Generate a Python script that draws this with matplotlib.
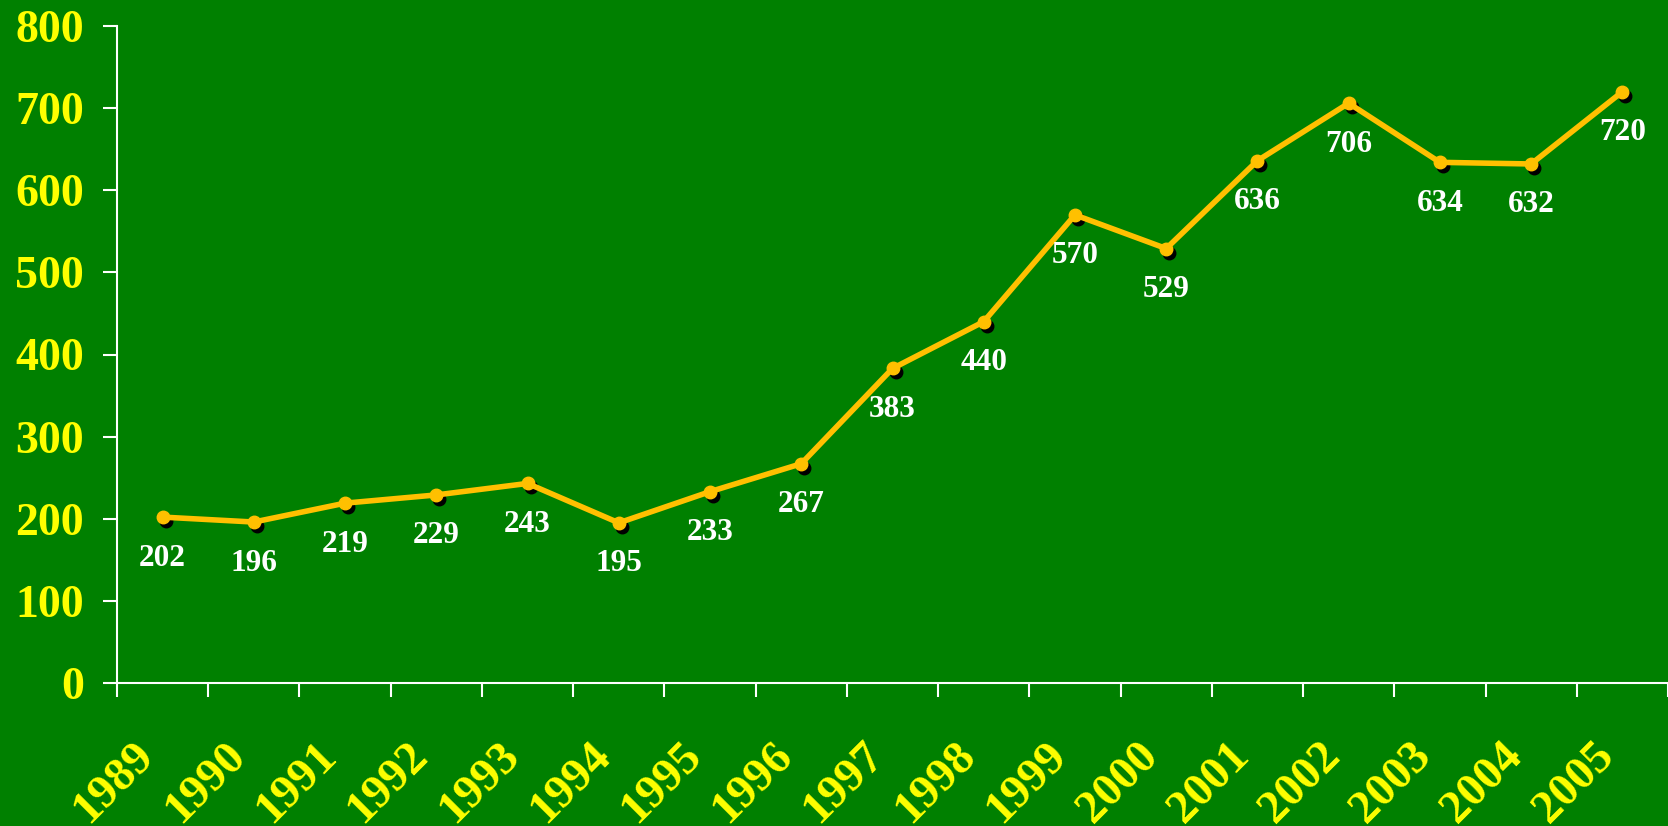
import matplotlib
matplotlib.use('Agg')
import matplotlib.pyplot as plt
import matplotlib.transforms as mtransforms
import numpy as np

# data
years = ['1989', '1990', '1991', '1992', '1993', '1994', '1995', '1996', '1997',
         '1998', '1999', '2000', '2001', '2002', '2003', '2004', '2005']
values = [202, 196, 219, 229, 243, 195, 233, 267, 383,
          440, 570, 529, 636, 706, 634, 632, 720]
y_ticks = [0, 100, 200, 300, 400, 500, 600, 700, 800]

bg = '#008000'
gold = '#FFC000'
yellow = '#FFFF00'
serif = 'Liberation Serif'

fig = plt.figure(figsize=(16.68, 8.26), dpi=100, facecolor=bg)
ax = fig.add_axes([117 / 1668, 1 - 683 / 826, 1 - 117 / 1668, (683 - 26) / 826])
ax.set_facecolor(bg)

x = np.arange(len(values)) + 0.5

# black shadow under each point
shadow = ax.transData + mtransforms.ScaledTranslation(3 / 100, -4 / 100, fig.dpi_scale_trans)
ax.plot(x, values, linestyle='none', marker='o', markersize=9, color='black',
        transform=shadow, zorder=2)
ax.plot(x, values, color=gold, linewidth=4, marker='o', markersize=9,
        markerfacecolor=gold, markeredgecolor=gold, zorder=3)

for xi, v in zip(x, values):
    ax.annotate(str(v), (xi, v), xytext=(0, -29.5), textcoords='offset points',
                ha='center', va='center', color='white', fontsize=22.5,
                fontweight='bold', family=serif, zorder=4)

ax.set_xlim(0, len(values))
ax.set_ylim(0, 800)

# spines
for side in ['top', 'right']:
    ax.spines[side].set_visible(False)
for side in ['left', 'bottom']:
    ax.spines[side].set_color('white')
    ax.spines[side].set_linewidth(1.5)

# y axis
ax.set_yticks(y_ticks)
ax.set_yticklabels([str(t) for t in y_ticks])
ax.tick_params(axis='y', colors='white', length=10, width=1.5, pad=14,
               labelcolor=yellow)
for lab in ax.get_yticklabels():
    lab.set_fontsize(33)
    lab.set_fontweight('bold')
    lab.set_family(serif)

# x axis: ticks at boundaries, labels at centers
ax.set_xticks(np.arange(len(values) + 1))
ax.set_xticklabels([])
ax.tick_params(axis='x', which='major', colors='white', length=10, width=1.5)
ax.set_xticks(x, minor=True)
ax.set_xticklabels(years, minor=True)
ax.tick_params(axis='x', which='minor', length=0, pad=37, labelcolor=yellow)
shift = mtransforms.ScaledTranslation(0, 0, fig.dpi_scale_trans)
for lab in ax.get_xticklabels(minor=True):
    lab.set_fontsize(34)
    lab.set_fontweight('bold')
    lab.set_family(serif)
    lab.set_rotation(45)
    lab.set_ha('right')
    lab.set_va('top')
    lab.set_transform(lab.get_transform() + shift)

for line in ax.lines:
    line.set_clip_on(False)

fig.savefig('out.png', dpi=100, facecolor=bg)
